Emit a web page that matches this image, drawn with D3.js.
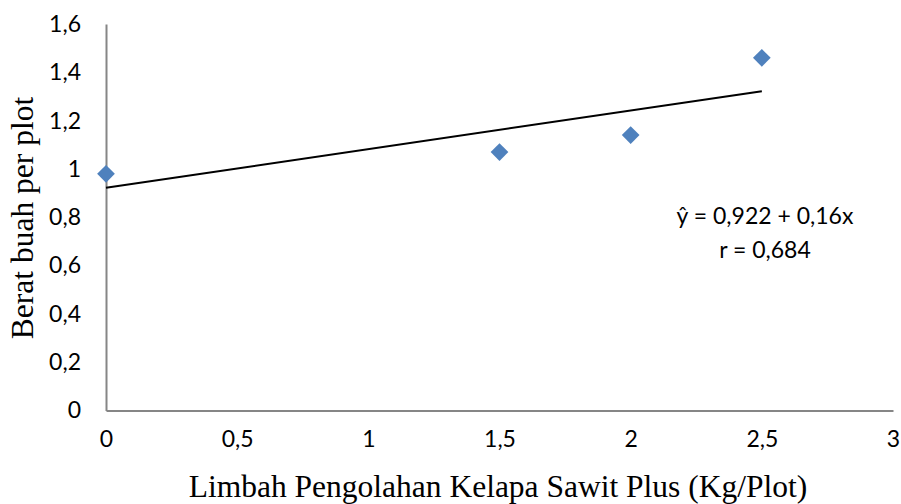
<!DOCTYPE html>
<html><head><meta charset="utf-8">
<script src="https://cdn.jsdelivr.net/npm/d3@7"></script>
<style>body{margin:0;background:#fff}</style>
</head><body>
<svg id="c" width="901" height="504"></svg>
<script>
const xValues = [0, 1.5, 2, 2.5];
const yValues = [0.98, 1.07, 1.14, 1.46];
const xTicks = [0, 0.5, 1, 1.5, 2, 2.5, 3];
const yTicks = [0, 0.2, 0.4, 0.6, 0.8, 1, 1.2, 1.4, 1.6];
const intercept = 0.922, slope = 0.16;
const eqLines = ["ŷ = 0,922 + 0,16x", "r = 0,684"];

const svg = d3.select("#c");
const x = d3.scaleLinear().domain([0, 3]).range([106, 893]);
const y = d3.scaleLinear().domain([0, 1.6]).range([410.5, 24]);
const fmt = d => String(d).replace(".", ",");
const tickFont = "Lato, 'Open Sans', sans-serif";

const gx = svg.append("g").attr("transform", "translate(0,410.5)")
  .call(d3.axisBottom(x).tickValues(xTicks).tickFormat(fmt).tickSize(0).tickPadding(20));
const gy = svg.append("g").attr("transform", "translate(106,0)")
  .call(d3.axisLeft(y).tickValues(yTicks).tickFormat(fmt).tickSize(0).tickPadding(25));
[gx, gy].forEach(g => {
  g.select(".domain").attr("stroke", "#868686").attr("stroke-width", 2);
  g.selectAll("text").attr("font-family", tickFont).attr("font-size", 23).attr("fill", "#000");
});

// regression line
svg.append("line")
  .attr("x1", x(0)).attr("y1", y(intercept))
  .attr("x2", x(2.5)).attr("y2", y(intercept + slope * 2.5))
  .attr("stroke", "#000").attr("stroke-width", 2);

// points
svg.selectAll("path.pt").data(xValues).enter().append("path")
  .attr("class", "pt")
  .attr("d", d3.symbol().type(d3.symbolDiamond2).size(200))
  .attr("transform", (d, i) => `translate(${x(d)},${y(yValues[i])})`)
  .attr("fill", "#4F81BD");

// equation
svg.selectAll("text.eq").data(eqLines).enter().append("text")
  .attr("class", "eq").attr("x", 765).attr("y", (d, i) => 224 + i * 34)
  .attr("text-anchor", "middle").attr("font-family", tickFont).attr("font-size", 23)
  .text(d => d);

// axis titles
svg.append("text").attr("x", 498).attr("y", 497).attr("text-anchor", "middle")
  .attr("font-family", "'Liberation Serif', 'Times New Roman', serif").attr("font-size", 31.5)
  .text("Limbah Pengolahan Kelapa Sawit Plus (Kg/Plot)");
svg.append("text").attr("transform", "translate(33,218) rotate(-90)").attr("text-anchor", "middle")
  .attr("font-family", "'Liberation Serif', 'Times New Roman', serif").attr("font-size", 31.5)
  .text("Berat buah per plot");
</script>
</body></html>
